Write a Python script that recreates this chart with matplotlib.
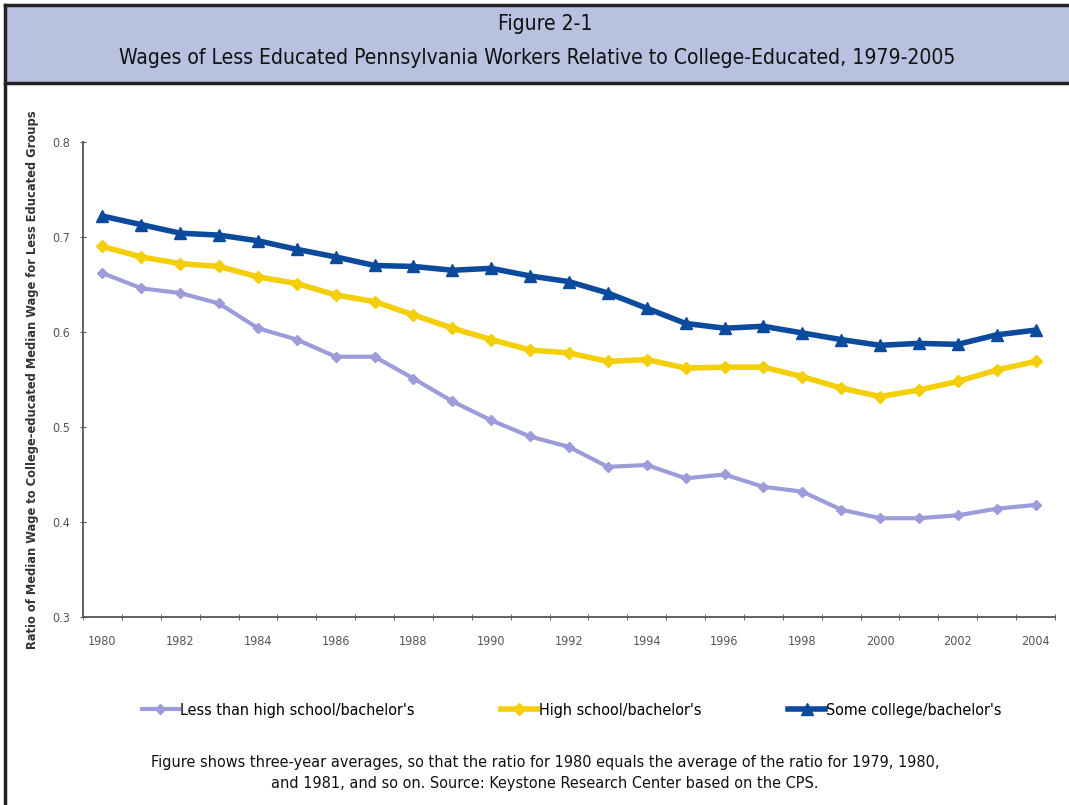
import matplotlib
matplotlib.use("Agg")
import matplotlib.pyplot as plt
from matplotlib.patches import Rectangle
from matplotlib.lines import Line2D
from matplotlib import font_manager

years = list(range(1980, 2005))
tick_years = list(range(1980, 2005, 2))

less_than_hs = [0.662, 0.646, 0.641, 0.630, 0.604, 0.592, 0.574, 0.574, 0.551, 0.527,
                0.507, 0.490, 0.479, 0.458, 0.460, 0.446, 0.450, 0.437, 0.432, 0.413,
                0.404, 0.404, 0.407, 0.414, 0.418]
high_school = [0.690, 0.679, 0.672, 0.669, 0.658, 0.651, 0.639, 0.632, 0.618, 0.604,
               0.592, 0.581, 0.578, 0.569, 0.571, 0.562, 0.563, 0.563, 0.553, 0.541,
               0.532, 0.539, 0.548, 0.560, 0.569]
some_college = [0.722, 0.713, 0.704, 0.702, 0.696, 0.687, 0.679, 0.670, 0.669, 0.665,
                0.667, 0.659, 0.653, 0.641, 0.625, 0.609, 0.604, 0.606, 0.599, 0.592,
                0.586, 0.588, 0.587, 0.597, 0.602]

series_names = ["Less than high school/bachelor's", "High school/bachelor's",
                "Some college/bachelor's"]

title1 = "Figure 2-1"
title2 = "Wages of Less Educated Pennsylvania Workers Relative to College-Educated, 1979-2005"
ylabel = "Ratio of Median Wage to College-educated Median Wage for Less Educated Groups"
note = ("Figure shows three-year averages, so that the ratio for 1980 equals the average of the ratio for 1979, 1980,\n"
        "and 1981, and so on. Source: Keystone Research Center based on the CPS.")

# look for a condensed face, else fall back to Liberation Sans
narrow_file = None
for f in font_manager.fontManager.ttflist:
    if ("Narrow" in f.name or "Condensed" in f.name or "condensed" in str(f.stretch)) \
            and f.weight in (400, "normal", "regular") and f.style == "normal":
        narrow_file = f.fname
        break
if narrow_file:
    narrow = font_manager.FontProperties(fname=narrow_file)
    scale = 1.0
else:
    narrow = font_manager.FontProperties(family="Liberation Sans")
    scale = 0.92

W, H = 1069, 805
fig = plt.figure(figsize=(W / 100, H / 100), dpi=100)
fig.patch.set_facecolor("white")

# header band and frame
fig.patches.append(Rectangle((5 / W, 1 - 83 / H), 1, 78 / H, transform=fig.transFigure,
                             facecolor="#B8C1DF", edgecolor="none", zorder=0))
fig.add_artist(Line2D([5 / W, 1], [1 - 5 / H, 1 - 5 / H], color="#222222", lw=2.5))
fig.add_artist(Line2D([5 / W, 1], [1 - 83 / H, 1 - 83 / H], color="#222222", lw=2.5))
fig.add_artist(Line2D([5 / W, 5 / W], [0, 1 - 5 / H], color="#222222", lw=2.5))

fp = narrow.copy(); fp.set_size(15.1 * scale)
fig.text(545 / W, 1 - 24 / H, title1, ha="center", va="center", fontproperties=fp,
         color="#111111")
fig.text(537 / W, 1 - 58 / H, title2, ha="center", va="center", fontproperties=fp,
         color="#111111")

ax = fig.add_axes([83 / W, 1 - 617 / H, (1055 - 83) / W, (617 - 142) / H])
x = list(range(len(years)))

ax.plot(x, less_than_hs, color="#9C9CDA", lw=3, marker="D", markersize=5,
        label=series_names[0], zorder=3)
ax.plot(x, high_school, color="#F4CF08", lw=4, marker="D", markersize=6,
        label=series_names[1], zorder=3)
ax.plot(x, some_college, color="#0B4A9C", lw=4, marker="^", markersize=8,
        label=series_names[2], zorder=4)

tp = narrow.copy(); tp.set_size(9 * scale)
ax.set_xlim(-0.5, len(years) - 0.5)
ax.set_ylim(0.3, 0.8)
ax.set_yticks([0.3, 0.4, 0.5, 0.6, 0.7, 0.8])
ax.set_yticklabels(["0.3", "0.4", "0.5", "0.6", "0.7", "0.8"], fontproperties=tp)
ax.set_xticks([y - 1980 for y in tick_years])
ax.set_xticklabels([str(y) for y in tick_years], fontproperties=tp)
ax.set_xticks([i - 0.5 for i in range(len(years) + 1)], minor=True)
ax.tick_params(axis="x", which="major", length=0, pad=13, labelcolor="#555555")
ax.tick_params(axis="x", which="minor", length=5, direction="inout", color="#555555")
ax.tick_params(axis="y", length=5, direction="inout", pad=7,
               labelcolor="#555555", color="#555555")
for s in ["top", "right"]:
    ax.spines[s].set_visible(False)
for s in ["left", "bottom"]:
    ax.spines[s].set_color("#555555")
    ax.spines[s].set_linewidth(1.3)

fig.text(33 / W, 1 - 380 / H, ylabel, rotation=90, ha="center", va="center",
         fontsize=8.3, fontweight="bold", color="#333333")

lp = narrow.copy(); lp.set_size(11.5 * scale)
fig.legend(loc="center", bbox_to_anchor=(572 / W, 1 - 710 / H), ncol=3, frameon=False,
           handlelength=2.3, handletextpad=0.1, columnspacing=5.4, prop=lp)

np_ = narrow.copy(); np_.set_size(11.65 * scale)
fig.text(545 / W, 1 - 773 / H, note, ha="center", va="center", fontproperties=np_,
         color="#111111", linespacing=1.45)

fig.savefig("out.png", dpi=100)
